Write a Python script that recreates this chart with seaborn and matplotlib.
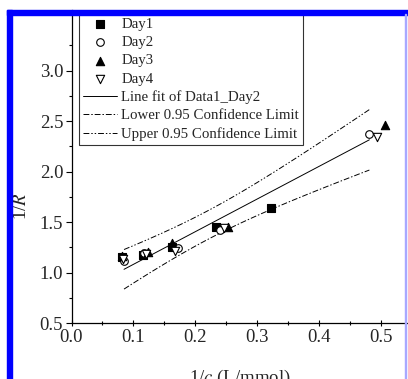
import numpy as np
import matplotlib
matplotlib.use("Agg")
import matplotlib.pyplot as plt
import seaborn as sns
from matplotlib.patches import Rectangle

# values
day1_x = [0.082, 0.116, 0.162, 0.234, 0.323]
day1_y = [1.15, 1.17, 1.255, 1.45, 1.64]
day2_x = [0.085, 0.118, 0.172, 0.240, 0.482]
day2_y = [1.11, 1.19, 1.24, 1.42, 2.37]
day3_x = [0.081, 0.124, 0.163, 0.254, 0.508]
day3_y = [1.16, 1.20, 1.29, 1.45, 2.46]
day4_x = [0.083, 0.121, 0.167, 0.247, 0.495]
day4_y = [1.13, 1.18, 1.215, 1.44, 2.34]

x_ticks = [0.0, 0.1, 0.2, 0.3, 0.4, 0.5]
y_ticks = [0.5, 1.0, 1.5, 2.0, 2.5, 3.0]

# linear fit of Day2 with 95% confidence limits of the mean (t, df=3)
t_val = 3.182
xd = np.array(day2_x)
yd = np.array(day2_y)
slope, icpt = np.polyfit(xd, yd, 1)
resid = yd - (slope * xd + icpt)
s = np.sqrt(np.sum(resid ** 2) / (len(xd) - 2))
sxx = np.sum((xd - xd.mean()) ** 2)
xf = np.linspace(xd.min(), xd.max(), 100)
yf = slope * xf + icpt
half = t_val * s * np.sqrt(1 / len(xd) + (xf - xd.mean()) ** 2 / sxx)

sns.set_style("ticks")
plt.rcParams['font.family'] = ['Liberation Serif', 'DejaVu Serif']
plt.rcParams['mathtext.fontset'] = 'stix'

W, H = 408, 379
fig = plt.figure(figsize=(W / 100, H / 100), dpi=100)
ax = fig.add_axes([71.5 / W, (H - 323) / H, (W - 71.5) / W, 313 / H])

sns.scatterplot(x=day1_x, y=day1_y, marker='s', s=26, color='black', edgecolor='black', linewidth=0.8, label='Day1', ax=ax, zorder=3)
sns.scatterplot(x=day2_x, y=day2_y, marker='o', s=30, color='white', edgecolor='black', linewidth=0.8, label='Day2', ax=ax, zorder=3)
sns.scatterplot(x=day3_x, y=day3_y, marker='^', s=36, color='black', edgecolor='black', linewidth=0.8, label='Day3', ax=ax, zorder=3)
sns.scatterplot(x=day4_x, y=day4_y, marker='v', s=36, color='white', edgecolor='black', linewidth=0.8, label='Day4', ax=ax, zorder=3)

ax.plot(xf, yf, color='black', lw=0.7, label='Line fit of Data1_Day2')
ax.plot(xf, yf - half, color='black', lw=0.7, linestyle=(0, (6, 2, 1.5, 2)), label='Lower 0.95 Confidence Limit')
ax.plot(xf, yf + half, color='black', lw=0.7, linestyle=(0, (6, 2, 1.5, 2, 1.5, 2)), label='Upper 0.95 Confidence Limit')

ax.set_xlim(0, (W - 71.5) / 618)
ax.set_ylim(0.5, 3.6)
ax.set_xticks(x_ticks)
ax.set_xticklabels([f"{v:.1f}" for v in x_ticks])
ax.set_yticks(y_ticks)
ax.set_yticklabels([f"{v:.1f}" for v in y_ticks])
ax.set_xticks(np.arange(0.05, 0.55, 0.1), minor=True)
ax.set_yticks(np.arange(0.75, 3.5, 0.5), minor=True)
ax.tick_params(axis='both', which='major', labelsize=13.5, color='black', width=0.8, length=4, pad=2)
ax.tick_params(axis='both', which='minor', color='black', width=0.8, length=2.5)
ax.tick_params(axis='x', which='both', direction='inout')
for sp in ['top', 'right']:
    ax.spines[sp].set_visible(False)
for sp in ['left', 'bottom']:
    ax.spines[sp].set_color('black')
    ax.spines[sp].set_linewidth(0.9)
ax.set_xlabel('')
ax.set_ylabel('')

fig.text(22 / W, 1 - 206 / H, '1/$R$', rotation=90, ha='center', va='center', fontsize=13.5)
fig.text(240 / W, 1 - 368 / H, '1/$c$ (L/mmol)', ha='center', va='top', fontsize=13.5)

leg = ax.legend(loc='upper left', bbox_to_anchor=(79 / W, 1 - 14 / H), bbox_transform=fig.transFigure,
                fontsize=10.7, frameon=True, fancybox=False, borderaxespad=0, handlelength=2.3,
                labelspacing=0.32, handletextpad=0.3, borderpad=0.25)
leg.get_frame().set_edgecolor('black')
leg.get_frame().set_linewidth(0.8)

# blue frame of the screenshot
fig.patches.append(Rectangle((7 / W, 1 - 14.5 / H), (W - 7) / W, 5 / H, transform=fig.transFigure, color='#0000ff', zorder=10))
fig.patches.append(Rectangle((7 / W, 0), 5.3 / W, 1 - 9.5 / H, transform=fig.transFigure, color='#0000ff', zorder=10))
fig.patches.append(Rectangle((405 / W, 0), 1.2 / W, 1 - 14 / H, transform=fig.transFigure, color='#a8a8ff', zorder=10))

fig.savefig('out.png', dpi=100)
